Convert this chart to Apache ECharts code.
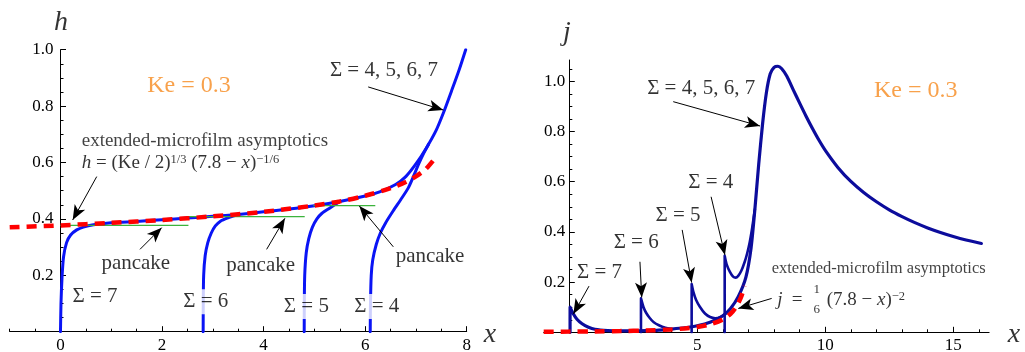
<!DOCTYPE html>
<html><head><meta charset="utf-8">
<script src="https://cdn.jsdelivr.net/npm/echarts@6/dist/echarts.min.js"></script>
<style>html,body{margin:0;padding:0;background:#fff}#c{width:1025px;height:352px}</style>
</head><body><div id="c"></div>
<script>
const F = '"Liberation Serif","Times New Roman",serif';

// ---------- Left panel: h(x), Ke = 0.3 ----------
const hSigma7 = [[0,0],[0.01,0.1],[0.03,0.19],[0.06,0.265],[0.12,0.316],[0.2,0.343],[0.32,0.361],[0.45,0.371],[0.65,0.379],[1,0.386],[1.5,0.391],[2,0.397],[2.5,0.403],[3,0.409],[3.5,0.416],[4,0.425],[4.5,0.435],[5,0.447],[5.5,0.462],[6,0.481],[6.3,0.497],[6.6,0.522],[6.8,0.55],[7.0,0.595],[7.2,0.65],[7.4,0.715],[7.55,0.78],[7.7,0.853],[7.85,0.928],[7.98,1.0]];
const hSigma6 = [[2.81,0],[2.812,0.1],[2.82,0.2],[2.85,0.27],[2.9,0.315],[2.97,0.35],[3.05,0.375],[3.15,0.392],[3.3,0.404],[3.45,0.413]];
const hSigma5 = [[4.8,0],[4.802,0.1],[4.81,0.2],[4.84,0.28],[4.89,0.33],[4.96,0.37],[5.05,0.4],[5.15,0.42],[5.3,0.438],[5.5,0.462]];
const hSigma4 = [[6.1,0],[6.105,0.1],[6.12,0.2],[6.15,0.255],[6.22,0.31],[6.3,0.35],[6.4,0.385],[6.55,0.428],[6.7,0.468],[6.85,0.51],[6.95,0.55],[7.05,0.593],[7.15,0.632],[7.25,0.665]];
const hAsym = [[-1,0.370],[0,0.377],[1,0.386],[2,0.396],[3,0.409],[4,0.425],[5,0.4475],[5.5,0.462],[6,0.482],[6.5,0.509],[6.8,0.531],[7,0.551],[7.2,0.578],[7.42,0.625]];
const pancakeY = [0.377, 0.408, 0.447];
const pancakeX0 = [0, 2.48, 4.98];
const pancakeX1 = [2.52, 4.81, 6.2];

// ---------- Right panel: j(x), Ke = 0.3 ----------
const jSigma7 = [[0.03,0],[0.031,0.1],[0.15,0.075],[0.3,0.052],[0.5,0.034],[0.75,0.02],[1.0,0.012],[1.5,0.007],[2,0.006],[2.5,0.006],[3,0.007],[3.5,0.009],[4,0.013],[4.5,0.018],[5,0.026],[5.5,0.04],[6,0.066],[6.3,0.095],[6.6,0.142],[6.9,0.22],[7.1,0.335],[7.25,0.49],[7.4,0.67],[7.55,0.83],[7.7,0.955],[7.85,1.03],[8.0,1.056],[8.15,1.06],[8.3,1.05],[8.5,1.02],[8.75,0.966],[9.0,0.913],[9.25,0.861],[9.5,0.812],[9.75,0.766],[10,0.725],[10.5,0.656],[11,0.601],[11.5,0.557],[12,0.52],[12.5,0.488],[13,0.461],[13.5,0.437],[14,0.416],[14.5,0.398],[15,0.382],[15.5,0.368],[16.1,0.354]];
const jSigma6 = [[2.8,0],[2.801,0.135],[2.9,0.1],[3.0,0.078],[3.15,0.056],[3.3,0.04],[3.5,0.028],[3.75,0.018],[4.0,0.013]];
const jSigma5 = [[4.78,0],[4.781,0.192],[4.85,0.16],[4.95,0.13],[5.1,0.102],[5.3,0.075],[5.5,0.061],[5.7,0.056],[5.9,0.06],[6.05,0.07]];
const jSigma4 = [[6.07,0],[6.071,0.305],[6.15,0.27],[6.28,0.24],[6.4,0.222],[6.5,0.218],[6.6,0.225],[6.72,0.245],[6.85,0.28],[6.95,0.315],[7.05,0.36],[7.15,0.42],[7.25,0.49]];
const jAsym = [[-1,0.0021],[0,0.0027],[1,0.0036],[2,0.005],[3,0.0072],[4,0.0115],[4.5,0.0153],[5,0.0213],[5.5,0.0315],[6,0.0514],[6.3,0.074],[6.5,0.0986],[6.7,0.138],[6.85,0.185]];

// ---------- tick labels ----------
const hXLabels = [0, 2, 4, 6, 8];
const hYLabels = [0.2, 0.4, 0.6, 0.8, 1.0];
const jXLabels = [5, 10, 15];
const jYLabels = [0.2, 0.4, 0.6, 0.8, 1.0];

// ---------- annotations (data units) ----------
const leftTexts = [
  [0.01, 1.0965, 'h', 'nm'],
  [8.46, -0.0117, 'x', 'nm'],
  [2.53, 0.871, 'Ke = 0.3', 'ke'],
  [6.37, 0.928, 'Σ = 4, 5, 6, 7', 'sig'],
  [0.418, 0.677, 'extended-microfilm asymptotics', 'extL'],
  [0.418, 0.598, '{i|h} = (Ke / 2){s|1/3} (7.8 − {i|x}){s|−1/6}', 'formL'],
  [1.483, 0.243, 'pancake', 'pan'],
  [3.943, 0.236, 'pancake', 'pan'],
  [7.278, 0.267, 'pancake', 'pan'],
  [0.680, 0.124, 'Σ = 7', 'sigBg'],
  [2.862, 0.106, 'Σ = 6', 'sigBg'],
  [4.842, 0.089, 'Σ = 5', 'sigBg'],
  [6.230, 0.089, 'Σ = 4', 'sigBg']
];
const leftArrows = [
  [6.06, 0.868, 7.54, 0.786],
  [0.714, 0.55, 0.24, 0.396],
  [1.566, 0.292, 1.993, 0.369],
  [4.06, 0.292, 4.42, 0.402],
  [6.555, 0.301, 5.885, 0.446]
];
const rightTexts = [
  [-0.09, 1.1924, 'j', 'nm'],
  [17.37, -0.0108, 'x', 'nm'],
  [5.152, 0.972, 'Σ = 4, 5, 6, 7', 'sig'],
  [13.535, 0.962, 'Ke = 0.3', 'ke'],
  [5.527, 0.597, 'Σ = 4', 'sig'],
  [4.246, 0.464, 'Σ = 5', 'sig'],
  [2.613, 0.358, 'Σ = 6', 'sig'],
  [1.180, 0.238, 'Σ = 7', 'sig'],
  [7.906, 0.252, 'extended-microfilm asymptotics', 'extR'],
  [8.23, 0.1287, '{i|j}', 'formR'],
  [8.90, 0.1287, '=', 'formR'],
  [9.664, 0.1705, '1', 'frac'],
  [9.664, 0.0908, '6', 'frac'],
  [10.055, 0.1287, '(7.8 − {i|x}){s|−2}', 'formRL']
];
const rightArrows = [
  [4.06, 0.919, 7.45, 0.822],
  [5.54, 0.540, 6.08, 0.308],
  [4.41, 0.408, 4.78, 0.198],
  [2.76, 0.281, 2.83, 0.139],
  [0.77, 0.184, 0.16, 0.073],
  [7.906, 0.135, 6.6, 0.095]
];

const INK = '#000';
const richSet = {i: {fontSize: 19, fontStyle: 'italic', fontFamily: F, color: INK},
                 s: {fontSize: 12.5, fontFamily: F, color: INK, verticalAlign: 'top'}};
const styles = {
  nm:   {fontSize: 28, color: INK, fontStyle: 'italic'},
  ke:   {fontSize: 24, color: '#f68a1e'},
  sig:  {fontSize: 21, color: INK},
  sigBg:{fontSize: 21, color: INK, backgroundColor: '#fff', padding: [2, 2]},
  pan:  {fontSize: 21, color: INK},
  extL: {fontSize: 19, color: '#111', align: 'left'},
  extR: {fontSize: 16.5, color: '#111', align: 'left'},
  formL:{fontSize: 19, color: INK, align: 'left', rich: richSet},
  formR:{fontSize: 19, color: INK, rich: richSet},
  formRL:{fontSize: 19, color: INK, align: 'left', rich: richSet},
  frac: {fontSize: 13, color: INK}
};

function labelFmt(list, digits) {
  return function (v) {
    for (const t of list) if (Math.abs(v - t) < 1e-6) return digits ? t.toFixed(digits) : String(t);
    return '';
  };
}

const labelStyle = {color: INK, fontFamily: F, fontSize: 17};
const blackLine = {color: '#000', width: 1};

function tickAxis(min, max, interval, len, gridIndex, extra) {
  return Object.assign({type: 'value', gridIndex, min, max, interval,
    axisLine: {show: false, onZero: false}, axisLabel: {show: false}, splitLine: {show: false},
    axisTick: {show: true, inside: true, length: len, lineStyle: blackLine}}, extra || {});
}

function textSeries(texts, arrows, xi, yi) {
  return {
    type: 'scatter', xAxisIndex: xi, yAxisIndex: yi, z: 20, silent: true, clip: false,
    symbolSize: 0, itemStyle: {color: 'rgba(0,0,0,0)'},
    data: texts.map(t => ({value: [t[0], t[1]],
      label: Object.assign({show: true, position: 'inside', fontFamily: F, formatter: t[2]}, styles[t[3]])})),
    markLine: {
      silent: true, animation: false, symbol: ['none', 'arrow'], symbolSize: [9, 15],
      lineStyle: {color: '#000', width: 1, type: 'solid'}, label: {show: false},
      emphasis: {disabled: true},
      data: arrows.map(a => [{coord: [a[0], a[1]]}, {coord: [a[2], a[3]]}])
    }
  };
}

function curve(data, xi, yi, color, width) {
  return {type: 'line', xAxisIndex: xi, yAxisIndex: yi, data, showSymbol: false, symbol: 'none',
    smooth: 0.25, silent: true, z: 3,
    lineStyle: {color, width, cap: 'round', join: 'round'}};
}
function dashed(data, xi, yi) {
  return {type: 'line', xAxisIndex: xi, yAxisIndex: yi, data, showSymbol: false, symbol: 'none',
    smooth: 0.3, silent: true, z: 5,
    lineStyle: {color: '#ff0000', width: 4.5, type: [10, 7], cap: 'butt'}};
}

const series = [];
[hSigma7, hSigma6, hSigma5, hSigma4].forEach(d => series.push(curve(d, 0, 0, '#0a14f5', 3)));
pancakeY.forEach((y, k) => series.push({type: 'line', xAxisIndex: 0, yAxisIndex: 0, silent: true, z: 4,
  showSymbol: false, symbol: 'none', data: [[pancakeX0[k], y], [pancakeX1[k], y]],
  lineStyle: {color: '#3cb33c', width: 1.3}}));
series.push(dashed(hAsym, 0, 0));
series.push(textSeries(leftTexts, leftArrows, 0, 0));

[jSigma7, jSigma6, jSigma5, jSigma4].forEach((d, k) => series.push(curve(d, 2, 2, '#0c0c9c', k === 0 ? 3.2 : 2.6)));
series.push(dashed(jAsym, 2, 2));
series.push(textSeries(rightTexts, rightArrows, 2, 2));

const yLab = (list, margin) => ({axisLabel: Object.assign({show: true, formatter: labelFmt(list, 1), margin}, labelStyle)});
const minor = {minorTick: {show: true, splitNumber: 4, length: 3, lineStyle: blackLine}};

const chart = echarts.init(document.getElementById('c'), null, {renderer: 'canvas'});
chart.setOption({
  animation: false,
  backgroundColor: '#fff',
  grid: [
    {left: 9.7, top: 49.7, width: 457, height: 282, outerBoundsMode: 'none', containLabel: false},
    {left: 60.5, top: 49.7, width: 406.2, height: 282, outerBoundsMode: 'none', containLabel: false},
    {left: 543.7, top: 60, width: 445.4, height: 272.3, outerBoundsMode: 'none', containLabel: false},
    {left: 569.3, top: 68.75, width: 409.6, height: 263.55, outerBoundsMode: 'none', containLabel: false},
    {left: 569.3, top: 81.3, width: 384, height: 251, outerBoundsMode: 'none', containLabel: false}
  ],
  xAxis: [
    {type: 'value', gridIndex: 0, min: -1, max: 8, interval: 0.5,
     axisLine: {show: true, onZero: false, lineStyle: blackLine},
     axisTick: {show: true, inside: true, length: 3, lineStyle: blackLine},
     axisLabel: Object.assign({formatter: labelFmt(hXLabels, 0), margin: 5}, labelStyle),
     splitLine: {show: false}},
    tickAxis(0, 8, 2, 5.5, 1),
    {type: 'value', gridIndex: 2, min: -1, max: 16.4, interval: 1,
     axisLine: {show: true, onZero: false, lineStyle: blackLine},
     axisTick: {show: false},
     axisLabel: Object.assign({formatter: labelFmt(jXLabels, 0), margin: 5}, labelStyle),
     splitLine: {show: false}},
    tickAxis(0, 16, 1, 3, 3),
    tickAxis(0, 15, 5, 5.5, 4)
  ],
  yAxis: [
    {type: 'value', gridIndex: 0, min: 0, max: 1, interval: 0.05, axisLine: {show: false, onZero: true},
     axisTick: {show: false}, axisLabel: {show: false}, splitLine: {show: false}},
    tickAxis(0, 1, 0.2, 5.5, 1, Object.assign({axisLine: {show: true, onZero: false, lineStyle: blackLine}}, minor, yLab(hYLabels, 7))),
    {type: 'value', gridIndex: 2, min: 0, max: 1.085, interval: 0.05, axisLine: {show: true, onZero: true, lineStyle: blackLine},
     axisTick: {show: false}, axisLabel: {show: false}, splitLine: {show: false}},
    tickAxis(0, 1.05, 0.05, 3, 3),
    tickAxis(0, 1.0, 0.2, 5.5, 4, yLab(jYLabels, 4))
  ],
  series
});
</script></body></html>
